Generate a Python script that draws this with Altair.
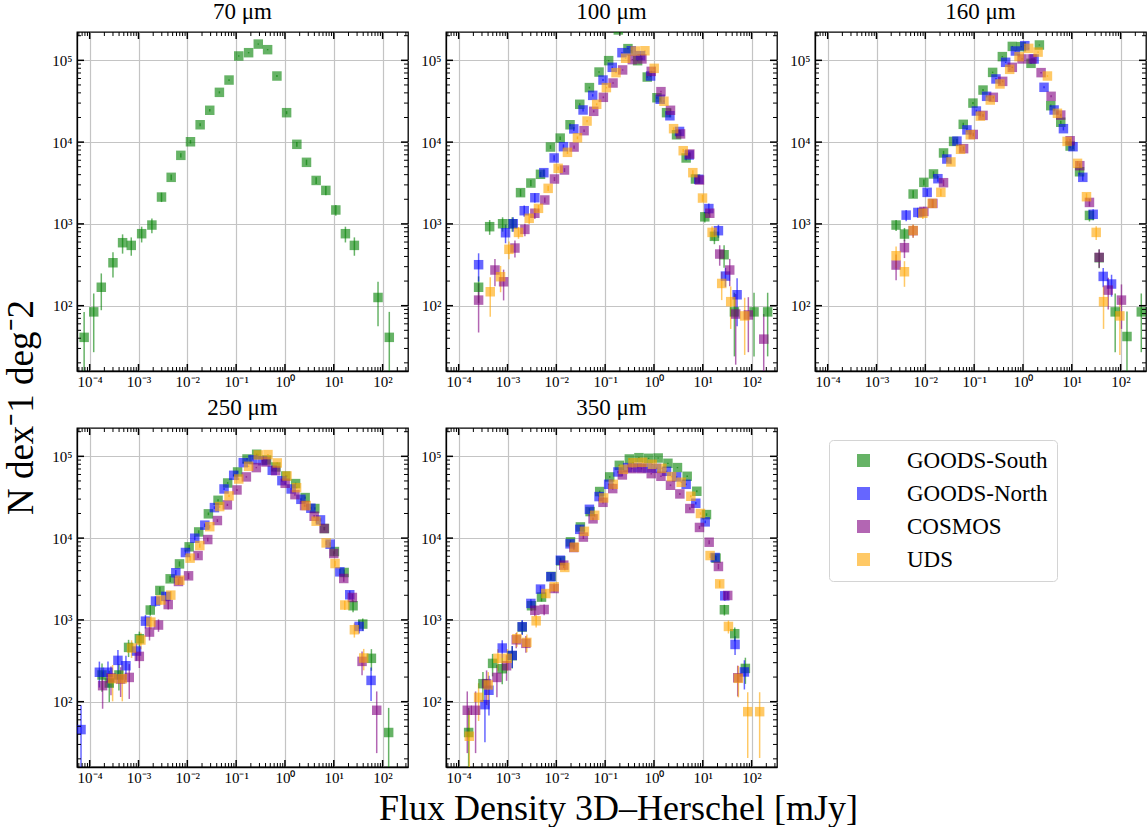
import altair as alt
import pandas as pd

FIELDS = ["GOODS-South", "GOODS-North", "COSMOS", "UDS"]
COLORS = ["#008000", "#0000ff", "#800080", "#ffa500"]
BANDS = ["70 μm", "100 μm", "160 μm", "250 μm", "350 μm"]

# ---------------- 70 micron ----------------
b70_gs_flux = [7.7e-5, 1.21e-4, 1.73e-4, 3.0e-4, 4.72e-4, 7.11e-4, 1.16e-3, 1.88e-3, 2.96e-3, 4.67e-3, 7.36e-3, 0.0116, 0.0183, 0.0288, 0.0454, 0.0715, 0.113, 0.180, 0.284, 0.441, 0.684, 1.08, 1.75, 2.76, 4.35, 6.87, 11.0, 17.3, 26.4, 80.5, 137]
b70_gs_n = [41, 84, 168, 335, 589, 546, 759, 968, 2130, 3710, 6890, 10100, 16300, 24500, 40600, 57400, 113000, 124000, 158000, 135000, 64300, 22900, 9400, 5660, 3400, 2570, 1480, 759, 546, 126, 41]
b70_gs_err = [43, 57, 80, 114, 156, 138, 166, 200, 280, 300, 400, 500, 700, 900, 1200, 1500, 2200, 2400, 2800, 2500, 1700, 1000, 600, 450, 330, 330, 220, 166, 138, 70, 43]

# ---------------- 100 micron ----------------
b100_gs_flux = [2.56e-4, 4.31e-4, 7.93e-4, 1.25e-3, 1.85e-3, 3.01e-3, 4.74e-3, 7.59e-3, 0.0120, 0.0191, 0.0302, 0.0476, 0.0750, 0.118, 0.186, 0.293, 0.462, 0.728, 1.15, 1.81, 2.90, 4.56, 7.08, 11.0, 17.3, 27.3, 44.4, 112, 213]
b100_gs_n = [168, 925, 1004, 1004, 2410, 3160, 4040, 8710, 11200, 16300, 29000, 46400, 71900, 99100, 235000, 139000, 99000, 62500, 34900, 22900, 12300, 6400, 3540, 1220, 705, 420, 84, 84, 84]
b100_gs_err = [60, 190, 200, 200, 250, 280, 300, 450, 550, 700, 950, 1200, 1500, 1800, 2500, 2000, 1800, 1400, 1000, 800, 600, 420, 320, 180, 140, 130, 60, 60, 60]

b100_gn_flux = [2.56e-4, 9.12e-4, 1.31e-3, 2.20e-3, 3.63e-3, 5.55e-3, 9.02e-3, 0.0140, 0.0228, 0.0353, 0.0556, 0.0904, 0.140, 0.221, 0.343, 0.532, 0.853, 1.34, 2.12, 3.34, 5.26, 8.28, 13.3, 20.9, 29.1, 50.4]
b100_gn_n = [317, 780, 1004, 1450, 2090, 4230, 6400, 8790, 14500, 24700, 37300, 57400, 82100, 124000, 131000, 114000, 64300, 33400, 21000, 13500, 6960, 3510, 1540, 826, 230, 136]
b100_gn_err = [120, 200, 200, 230, 280, 400, 500, 600, 800, 1000, 1300, 1600, 2000, 2500, 2600, 2400, 1700, 1200, 900, 700, 500, 330, 230, 150, 60, 80]

b100_co_flux = [2.56e-4, 5.53e-4, 8.32e-4, 1.42e-3, 2.27e-3, 3.63e-3, 5.81e-3, 9.16e-3, 0.0147, 0.0231, 0.0370, 0.0583, 0.0919, 0.145, 0.228, 0.360, 0.566, 0.879, 1.39, 2.18, 3.50, 5.42, 8.55, 13.9, 22.2, 35.6, 47.2, 85.7, 177]
b100_co_n = [117, 273, 196, 507, 857, 1350, 1960, 3540, 4560, 8710, 13800, 23800, 35300, 52800, 76300, 102000, 104000, 73300, 41400, 24500, 12600, 7150, 3440, 1350, 428, 273, 79, 77, 39]
b100_co_err = [70, 100, 80, 120, 150, 200, 150, 200, 250, 400, 500, 700, 900, 1100, 1400, 1700, 1700, 1400, 1000, 800, 550, 400, 250, 150, 120, 100, 60, 50, 40]

b100_uds_flux = [4.43e-4, 7.21e-4, 1.07e-3, 1.68e-3, 2.78e-3, 4.31e-3, 6.80e-3, 0.0109, 0.0169, 0.0271, 0.0426, 0.0671, 0.106, 0.167, 0.263, 0.414, 0.653, 1.01, 1.60, 2.52, 3.97, 6.25, 9.86, 15.5, 24.4, 37.3, 72.1]
b100_uds_n = [148, 226, 489, 787, 1170, 1550, 2720, 4780, 7500, 11300, 18100, 29000, 46400, 70700, 106000, 130000, 131000, 79800, 31600, 14600, 7850, 4230, 2070, 787, 187, 112, 75]
b100_uds_err = [75, 80, 120, 130, 170, 150, 200, 250, 350, 450, 600, 800, 1000, 1300, 1600, 1800, 1800, 1400, 900, 600, 400, 300, 200, 150, 70, 60, 50]

# ---------------- 160 micron ----------------
b160_gs_flux = [2.52e-3, 3.74e-3, 5.63e-3, 9.33e-3, 0.0147, 0.0236, 0.0379, 0.0598, 0.0945, 0.152, 0.239, 0.378, 0.605, 0.927, 1.46, 2.17, 3.71, 5.94, 9.24, 14.4, 23.0, 36.4, 77.4, 135, 265]
b160_gs_n = [968, 752, 2320, 3220, 4080, 7370, 10200, 16500, 30000, 43300, 71200, 111000, 148000, 147000, 91900, 154000, 27900, 17500, 8950, 4340, 1270, 386, 84, 42, 84]
b160_gs_err = [150, 140, 250, 280, 320, 450, 550, 700, 1000, 1200, 1600, 2000, 2400, 2400, 1900, 2500, 1000, 800, 550, 350, 200, 100, 57, 43, 57]

b160_gn_flux = [4.05e-3, 7.03e-3, 0.0109, 0.0181, 0.0276, 0.0444, 0.0711, 0.111, 0.180, 0.280, 0.442, 0.699, 1.09, 1.69, 2.70, 4.34, 6.74, 10.6, 16.8, 27.4, 44.0, 65.2]
b160_gn_n = [1280, 1380, 2430, 3570, 6210, 10300, 14100, 24000, 36300, 59200, 94600, 130000, 151000, 104000, 46800, 24700, 14600, 8790, 3710, 1310, 228, 184]
b160_gn_err = [200, 200, 250, 300, 450, 600, 700, 900, 1100, 1400, 1800, 2200, 2500, 2000, 1300, 900, 700, 550, 350, 200, 60, 55]

b160_co_flux = [2.52e-3, 3.74e-3, 5.63e-3, 9.33e-3, 0.0143, 0.0236, 0.0608, 0.0960, 0.152, 0.247, 0.384, 0.605, 0.957, 1.53, 2.35, 3.77, 5.94, 9.24, 14.6, 23.0, 36.4, 55.7, 104]
b160_co_n = [314, 512, 826, 1420, 1780, 3190, 8320, 12400, 21200, 35300, 55300, 82100, 104000, 104000, 70700, 36300, 21400, 10400, 5150, 1830, 390, 155, 117]
b160_co_err = [110, 130, 150, 200, 220, 300, 500, 600, 800, 1000, 1300, 1600, 1800, 1800, 1500, 1000, 800, 550, 380, 200, 100, 65, 65]

b160_uds_flux = [2.52e-3, 3.74e-3, 5.63e-3, 8.89e-3, 0.0138, 0.0208, 0.0334, 0.0527, 0.0834, 0.134, 0.214, 0.338, 0.534, 0.830, 1.31, 2.04, 3.17, 5.08, 8.02, 13.1, 20.0, 31.6, 44.7, 96.6]
b160_uds_n = [408, 260, 830, 1350, 1780, 2430, 5720, 8170, 12300, 20800, 32700, 51400, 77600, 111000, 140000, 126000, 64300, 22500, 10200, 5500, 2150, 787, 112, 75]
b160_uds_err = [120, 90, 150, 200, 220, 250, 400, 500, 600, 800, 1000, 1300, 1600, 1900, 2100, 2000, 1400, 800, 550, 380, 220, 150, 60, 50]

# ---------------- 250 micron ----------------
b250_gs_flux = [1.79e-4, 2.52e-4, 3.97e-4, 6.26e-4, 1.04e-3, 1.74e-3, 2.74e-3, 4.45e-3, 6.91e-3, 0.0109, 0.0171, 0.0270, 0.0426, 0.0671, 0.107, 0.167, 0.263, 0.421, 0.653, 1.04, 1.65, 2.59, 4.09, 6.44, 10.3, 16.3, 24.8, 39.2, 58.9, 133]
b250_gs_n = [212, 169, 212, 461, 589, 1320, 2290, 3180, 4840, 7820, 11900, 19800, 29000, 47200, 64400, 92800, 106000, 90200, 74100, 57500, 46400, 31300, 23000, 13100, 6850, 3800, 1490, 889, 339, 42]
b250_gs_err = [80, 70, 75, 110, 130, 200, 250, 280, 350, 450, 550, 750, 900, 1200, 1400, 1700, 1800, 1700, 1500, 1300, 1200, 1000, 850, 650, 450, 330, 250, 150, 100, 42]

b250_gn_flux = [6.65e-5, 1.58e-4, 2.37e-4, 3.79e-4, 5.53e-4, 9.12e-4, 1.39e-3, 2.23e-3, 3.63e-3, 5.81e-3, 9.16e-3, 0.0142, 0.0228, 0.0359, 0.0565, 0.0891, 0.140, 0.221, 0.348, 0.549, 0.865, 1.34, 2.12, 3.39, 5.34, 8.41, 13.3, 21.2, 33.0, 58.0]
b250_gn_n = [45.6, 229, 229, 320, 275, 416, 966, 1700, 1940, 3770, 6670, 9970, 14400, 23600, 39900, 58600, 83700, 91000, 88500, 67500, 50400, 39900, 29800, 23200, 16700, 8430, 3870, 2030, 832, 182]
b250_gn_err = [45, 80, 80, 110, 90, 100, 180, 250, 250, 300, 450, 550, 700, 900, 1200, 1500, 1800, 1900, 1900, 1600, 1400, 1200, 1000, 900, 750, 500, 330, 250, 150, 80]

b250_co_flux = [1.84e-4, 2.73e-4, 4.31e-4, 6.47e-4, 1.04e-3, 1.68e-3, 2.57e-3, 4.06e-3, 6.59e-3, 0.0106, 0.0166, 0.0262, 0.0413, 0.0661, 0.104, 0.162, 0.259, 0.408, 0.643, 1.01, 1.60, 2.52, 3.96, 6.34, 10.0, 16.0, 24.0, 37.9, 75.7]
b250_co_n = [157, 195, 189, 198, 358, 710, 865, 1540, 2950, 3460, 6120, 9600, 16400, 25500, 38800, 56000, 72800, 85300, 66800, 46800, 34000, 25000, 18500, 13100, 6490, 3210, 1880, 311, 78.5]
b250_co_err = [75, 75, 75, 90, 100, 150, 150, 200, 280, 300, 400, 500, 650, 800, 1000, 1200, 1400, 1500, 1300, 1100, 950, 800, 700, 600, 400, 280, 200, 100, 55]

b250_uds_flux = [2.95e-4, 4.66e-4, 7.21e-4, 1.12e-3, 1.79e-3, 2.87e-3, 4.59e-3, 7.02e-3, 0.0114, 0.0180, 0.0288, 0.0460, 0.0715, 0.113, 0.180, 0.284, 0.448, 0.695, 1.10, 1.73, 2.72, 4.35, 6.97, 10.6, 16.8, 26.4, 41.0]
b250_uds_n = [191, 191, 453, 567, 940, 1750, 2010, 3060, 5690, 8110, 13800, 24300, 32800, 52800, 75500, 104000, 105000, 83000, 57500, 41400, 25000, 16100, 8740, 4890, 1520, 758, 342]
b250_uds_err = [90, 90, 110, 130, 170, 220, 250, 300, 400, 500, 650, 850, 1000, 1300, 1500, 1800, 1800, 1600, 1300, 1100, 850, 700, 500, 380, 200, 150, 100]

# ---------------- 350 micron ----------------
b350_gs_flux = [1.60e-4, 3.14e-4, 4.95e-4, 7.80e-4, 1.25e-3, 2.00e-3, 3.10e-3, 4.97e-3, 7.83e-3, 0.0123, 0.0195, 0.0311, 0.0491, 0.0773, 0.124, 0.195, 0.313, 0.492, 0.776, 1.22, 1.93, 3.03, 4.79, 7.54, 11.9, 18.7, 27.7, 45.1, 74.5]
b350_gs_n = [42, 166, 294, 253, 365, 817, 1490, 1900, 3400, 5270, 9000, 13700, 21100, 37100, 56000, 77600, 92800, 96300, 94600, 95400, 82200, 72800, 57000, 37400, 19400, 5690, 1330, 678, 255]
b350_gs_err = [42, 65, 90, 90, 110, 150, 200, 220, 300, 380, 500, 600, 750, 1000, 1200, 1400, 1500, 1500, 1500, 1500, 1400, 1300, 1200, 1000, 700, 400, 200, 130, 90]

b350_gn_flux = [3.45e-4, 4.17e-4, 7.80e-4, 1.25e-3, 2.00e-3, 3.01e-3, 4.74e-3, 7.71e-3, 0.0121, 0.0191, 0.0302, 0.0476, 0.0750, 0.118, 0.183, 0.289, 0.462, 0.728, 1.13, 1.81, 2.90, 4.56, 7.19, 11.2, 17.9, 28.2, 45.8, 71.1]
b350_gn_n = [92, 138, 453, 368, 825, 1590, 2380, 3370, 5370, 8510, 12800, 22500, 32200, 45500, 64400, 72800, 72800, 72100, 71300, 65600, 56000, 45500, 26700, 15800, 5790, 1970, 501, 231]
b350_gn_err = [60, 70, 110, 110, 170, 200, 250, 300, 380, 500, 600, 750, 900, 1100, 1300, 1400, 1400, 1400, 1400, 1300, 1200, 1100, 850, 650, 400, 250, 130, 90]

b350_co_flux = [1.50e-4, 2.22e-4, 3.73e-4, 6.07e-4, 9.57e-4, 1.51e-3, 2.38e-3, 3.63e-3, 5.63e-3, 9.02e-3, 0.0142, 0.0228, 0.0358, 0.0565, 0.0904, 0.143, 0.225, 0.354, 0.558, 0.879, 1.39, 2.18, 3.39, 5.42, 8.55, 13.5, 20.9, 32.4, 51.9]
b350_co_n = [78.5, 78.5, 166, 198, 275, 571, 517, 1310, 1340, 2420, 4670, 7670, 10300, 17200, 27400, 40300, 59200, 70700, 70700, 61400, 57000, 44300, 34700, 23000, 13500, 8910, 4500, 1990, 196]
b350_co_err = [55, 55, 75, 85, 95, 120, 120, 200, 200, 250, 350, 450, 550, 700, 900, 1100, 1300, 1400, 1400, 1300, 1250, 1100, 950, 800, 600, 500, 350, 200, 80]

b350_uds_flux = [1.65e-4, 2.56e-4, 4.04e-4, 6.37e-4, 9.89e-4, 1.56e-3, 2.49e-3, 3.86e-3, 6.09e-3, 9.02e-3, 0.0149, 0.0235, 0.0376, 0.0611, 0.0933, 0.147, 0.236, 0.371, 0.585, 0.923, 1.45, 2.29, 3.61, 5.69, 8.96, 14.1, 22.2, 33.5, 53.6, 83.2, 146]
b350_uds_n = [37.8, 113, 160, 339, 339, 589, 531, 975, 2100, 2540, 4380, 7740, 12100, 19000, 31000, 45500, 69300, 83700, 84500, 79900, 71300, 56500, 48200, 32500, 20000, 6120, 2760, 832, 193, 75.5, 75.5]
b350_uds_err = [40, 55, 70, 100, 100, 120, 130, 170, 250, 280, 350, 450, 550, 700, 900, 1100, 1300, 1400, 1400, 1400, 1300, 1200, 1100, 900, 700, 400, 280, 150, 80, 55, 55]

# axis tick positions
X_DOMAIN = [5.5e-5, 331]
Y_DOMAIN = [15.9, 2.22e5]
X_MAJOR = [1e-4, 1e-3, 1e-2, 1e-1, 1, 10, 100]
Y_MAJOR = [1e2, 1e3, 1e4, 1e5]
X_MINOR = [k * 10.0 ** n for n in range(-5, 3) for k in range(2, 10)
           if X_DOMAIN[0] <= k * 10.0 ** n <= X_DOMAIN[1]]
Y_MINOR = [k * 10.0 ** n for n in range(1, 6) for k in range(2, 10)
           if Y_DOMAIN[0] <= k * 10.0 ** n <= Y_DOMAIN[1]]

series = [
    ("70 μm", "GOODS-South", b70_gs_flux, b70_gs_n, b70_gs_err),
    ("100 μm", "GOODS-South", b100_gs_flux, b100_gs_n, b100_gs_err),
    ("100 μm", "GOODS-North", b100_gn_flux, b100_gn_n, b100_gn_err),
    ("100 μm", "COSMOS", b100_co_flux, b100_co_n, b100_co_err),
    ("100 μm", "UDS", b100_uds_flux, b100_uds_n, b100_uds_err),
    ("160 μm", "GOODS-South", b160_gs_flux, b160_gs_n, b160_gs_err),
    ("160 μm", "GOODS-North", b160_gn_flux, b160_gn_n, b160_gn_err),
    ("160 μm", "COSMOS", b160_co_flux, b160_co_n, b160_co_err),
    ("160 μm", "UDS", b160_uds_flux, b160_uds_n, b160_uds_err),
    ("250 μm", "GOODS-South", b250_gs_flux, b250_gs_n, b250_gs_err),
    ("250 μm", "GOODS-North", b250_gn_flux, b250_gn_n, b250_gn_err),
    ("250 μm", "COSMOS", b250_co_flux, b250_co_n, b250_co_err),
    ("250 μm", "UDS", b250_uds_flux, b250_uds_n, b250_uds_err),
    ("350 μm", "GOODS-South", b350_gs_flux, b350_gs_n, b350_gs_err),
    ("350 μm", "GOODS-North", b350_gn_flux, b350_gn_n, b350_gn_err),
    ("350 μm", "COSMOS", b350_co_flux, b350_co_n, b350_co_err),
    ("350 μm", "UDS", b350_uds_flux, b350_uds_n, b350_uds_err),
]

rows = []
for band, field, xs_, ns_, es_ in series:
    for x, n, e in zip(xs_, ns_, es_):
        rows.append({"band": band, "field": field, "flux": x, "N": n,
                     "lo": max(n - e, 1.0), "hi": n + e})
df = pd.DataFrame(rows)

W, H = 331, 339
FONT = "Liberation Serif"
xscale = alt.Scale(type="log", domain=X_DOMAIN, nice=False)
yscale = alt.Scale(type="log", domain=Y_DOMAIN, nice=False)
SUP = "['⁰','¹','²','³','⁴','⁵','⁶'][abs(round(log(datum.value) / LN10))]"
LABEL_EXPR = "'10' + (datum.value < 1 ? '⁻' : '') + " + SUP

color = alt.Color(
    "field:N",
    scale=alt.Scale(domain=FIELDS, range=COLORS),
    legend=alt.Legend(
        title=None, orient="none", legendX=752, legendY=408,
        symbolType="square", symbolSize=170, symbolOpacity=0.6,
        symbolStrokeWidth=0, symbolOffset=14, labelOffset=32,
        labelFont=FONT, labelFontSize=23, labelColor="black",
        rowPadding=9, padding=9, strokeColor="#d4d4d4",
        fillColor="white", cornerRadius=4,
    ),
)


def tick_layers(xaxis, yaxis):
    layers = []
    specs = [(X_MAJOR, "x", 7, 1.5), (X_MINOR, "x", 4, 1.0),
             (Y_MAJOR, "y", 7, 1.5), (Y_MINOR, "y", 4, 1.0)]
    for vals, ax, ln, sw in specs:
        src = alt.Chart(pd.DataFrame({"v": vals}))
        if ax == "x":
            xe = alt.X("v:Q", scale=xscale, axis=xaxis)
            layers.append(src.mark_rule(color="black", strokeWidth=sw).encode(
                x=xe, y=alt.value(H), y2=alt.value(H - ln)))
            layers.append(src.mark_rule(color="black", strokeWidth=sw).encode(
                x=xe, y=alt.value(0), y2=alt.value(ln)))
        else:
            ye = alt.Y("v:Q", scale=yscale, axis=yaxis)
            layers.append(src.mark_rule(color="black", strokeWidth=sw).encode(
                y=ye, x=alt.value(0), x2=alt.value(ln)))
            layers.append(src.mark_rule(color="black", strokeWidth=sw).encode(
                y=ye, x=alt.value(W), x2=alt.value(W - ln)))
    return layers


def panel(band, xtitle=False, ytitle=False):
    d = df[df["band"] == band]
    if xtitle:
        xaxis = alt.Axis(values=X_MAJOR, labelExpr=LABEL_EXPR,
                         title="Flux Density 3D–Herschel [mJy]",
                         titleFont=FONT, titleFontSize=36, titleFontWeight="normal",
                         titleColor="black", titleX=172, titleY=52,
                         titleAlign="center", titleBaseline="alphabetic")
    else:
        xaxis = alt.Axis(values=X_MAJOR, labelExpr=LABEL_EXPR, title=None)
    if ytitle:
        yaxis = alt.Axis(values=Y_MAJOR, labelExpr=LABEL_EXPR,
                         title="N dex⁻1 deg⁻2",
                         titleFont=FONT, titleFontSize=37, titleFontWeight="normal",
                         titleColor="black", titleAngle=270, titleX=-45, titleY=375,
                         titleAlign="center", titleBaseline="alphabetic")
    else:
        yaxis = alt.Axis(values=Y_MAJOR, labelExpr=LABEL_EXPR, title=None)

    base = alt.Chart(d)
    err = base.mark_rule(strokeWidth=1.5, opacity=0.6, clip=True).encode(
        x=alt.X("flux:Q", scale=xscale, axis=xaxis),
        y=alt.Y("lo:Q", scale=yscale, axis=yaxis),
        y2="hi:Q",
        color=color,
    )
    pts = base.mark_point(shape="square", filled=True, size=90, opacity=0.6,
                          clip=True).encode(
        x=alt.X("flux:Q", scale=xscale, axis=xaxis),
        y=alt.Y("N:Q", scale=yscale, axis=yaxis),
        color=color,
    )
    return alt.layer(err, pts, *tick_layers(xaxis, yaxis)).properties(
        width=W, height=H, title=alt.TitleParams(band))


chart = alt.concat(
    panel("70 μm", ytitle=True), panel("100 μm"), panel("160 μm"),
    panel("250 μm"), panel("350 μm", xtitle=True),
    columns=3, spacing={"row": 57, "column": 38}, bounds="flush",
).properties(
    padding={"left": 1, "top": 0, "right": 0, "bottom": 0}
).configure_view(
    stroke="black", strokeWidth=1.3
).configure_axis(
    domainColor="black", domainWidth=1.3, ticks=False,
    labelFont=FONT, labelFontSize=15, labelColor="black", labelPadding=3,
    grid=True, gridColor="#c4c4c4", gridWidth=1.2,
).configure_axisY(labelPadding=5).configure_title(
    font=FONT, fontSize=23, fontWeight="normal", color="black",
    offset=7, baseline="alphabetic", anchor="middle",
)

chart.save("out.html", embed_options={"renderer": "svg", "actions": False})
